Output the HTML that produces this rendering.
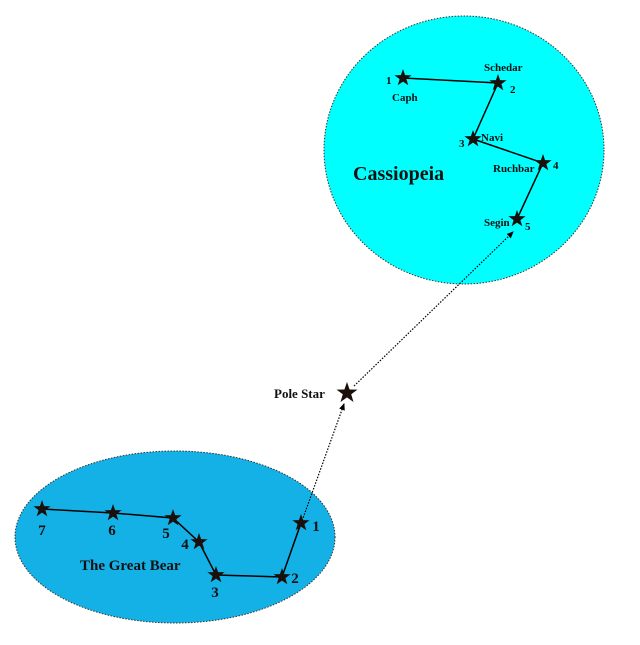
<!DOCTYPE html>
<html><head><meta charset="utf-8"><style>
html,body{margin:0;padding:0;background:#fff;}
svg{display:block;font-family:"Liberation Serif",serif;font-weight:bold;}
</style></head><body>
<svg width="640" height="645" viewBox="0 0 640 645" xmlns="http://www.w3.org/2000/svg">
<defs>
<polygon id="st" points="0,-9 2.1,-2.9 8.6,-2.8 3.4,1.1 5.3,7.3 0,3.6 -5.3,7.3 -3.4,1.1 -8.6,-2.8 -2.1,-2.9" fill="#1a0f0a"/>
<marker id="ar" markerWidth="8" markerHeight="8" refX="6" refY="4" orient="auto" markerUnits="userSpaceOnUse"><path d="M0,1 L7,4 L0,7 z" fill="#000"/></marker>
</defs>
<ellipse cx="464" cy="150" rx="140" ry="134" fill="#00ffff" stroke="#333" stroke-width="1" stroke-dasharray="1.5,1.5"/>
<ellipse cx="175" cy="537" rx="160" ry="86" fill="#13b1e6" stroke="#333" stroke-width="1" stroke-dasharray="1.5,1.5"/>
<polyline points="403,78 498,83 473,139 543,163 517,219" fill="none" stroke="#000" stroke-width="1.5"/>
<polyline points="42,509 113,513 173,518 199,542 216,575 282,577 301,523" fill="none" stroke="#000" stroke-width="1.5"/>
<line x1="288" y1="560" x2="344" y2="404" stroke="#000" stroke-width="1.2" stroke-dasharray="1.5,1.5" marker-end="url(#ar)"/>
<line x1="354" y1="386" x2="513" y2="232" stroke="#000" stroke-width="1.2" stroke-dasharray="1.5,1.5" marker-end="url(#ar)"/>
<use href="#st" x="403" y="78"/><use href="#st" x="498" y="83"/><use href="#st" x="473" y="139"/><use href="#st" x="543" y="163"/><use href="#st" x="517" y="219"/>
<use href="#st" x="42" y="509"/><use href="#st" x="113" y="513"/><use href="#st" x="173" y="518"/><use href="#st" x="199" y="542"/><use href="#st" x="216" y="575"/><use href="#st" x="282" y="577"/><use href="#st" x="301" y="523"/>
<polygon points="0,-11 2.6,-3.5 10.5,-3.4 4.2,1.3 6.5,9 0,4.4 -6.5,9 -4.2,1.3 -10.5,-3.4 -2.6,-3.5" transform="translate(347,393)" fill="#1a0f0a"/>
<g font-size="11" fill="#111">
<text x="386" y="84">1</text><text x="392" y="101">Caph</text>
<text x="484" y="71">Schedar</text><text x="510" y="93">2</text>
<text x="459" y="147">3</text><text x="481" y="141">Navi</text>
<text x="493" y="172">Ruchbar</text><text x="553" y="169">4</text>
<text x="484" y="226">Segin</text><text x="525" y="230">5</text>
</g>
<text x="353" y="180" font-size="20" fill="#111">Cassiopeia</text>
<text x="274" y="398" font-size="13" fill="#111">Pole Star</text>
<g font-size="15" fill="#111" text-anchor="middle">
<text x="42" y="535">7</text><text x="112" y="535">6</text><text x="166" y="538">5</text><text x="185" y="549">4</text><text x="215" y="597">3</text><text x="295" y="583">2</text><text x="316" y="531">1</text>
</g>
<text x="80" y="570" font-size="15" fill="#111">The Great Bear</text>
</svg>
</body></html>
